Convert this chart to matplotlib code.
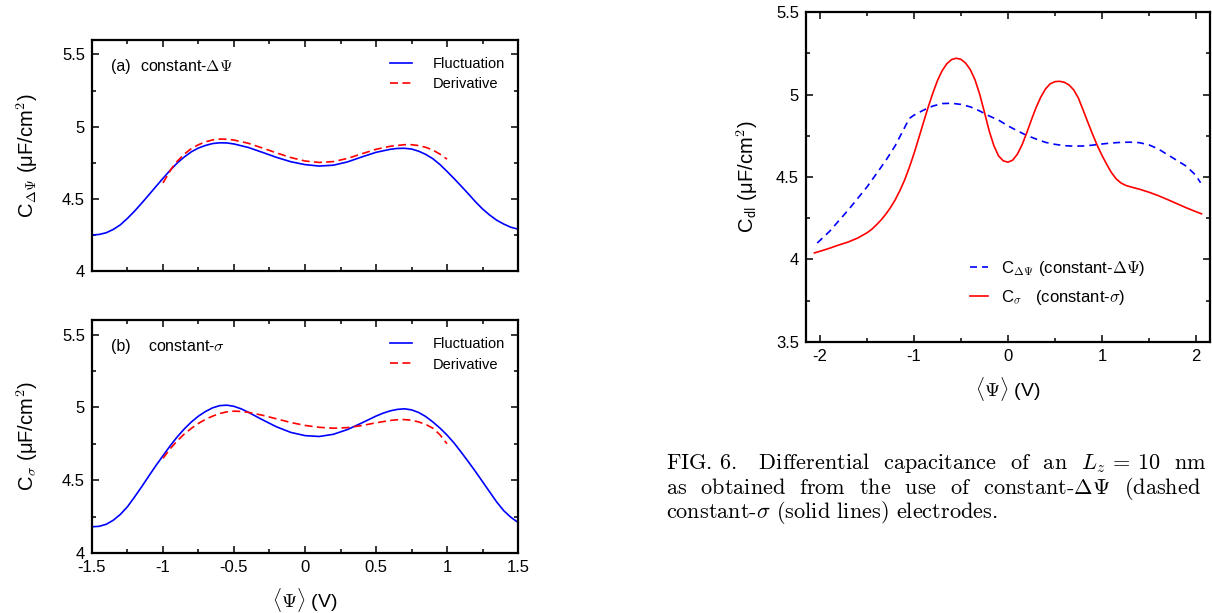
import numpy as np
import matplotlib
matplotlib.use("Agg")
import matplotlib.pyplot as plt
from matplotlib.ticker import MultipleLocator, FuncFormatter

plt.rcParams['font.family'] = ['Liberation Sans', 'DejaVu Sans']
plt.rcParams['mathtext.fontset'] = 'cm'
plt.rcParams['axes.unicode_minus'] = False

# panel (a): constant-dPsi electrodes
psi_a_fluct = [-1.5, -1.45, -1.4, -1.35, -1.3, -1.25, -1.2, -1.15, -1.1, -1.05, -1.0, -0.95, -0.9, -0.85,
               -0.8, -0.75, -0.7, -0.65, -0.6, -0.55, -0.5, -0.4, -0.3, -0.2, -0.1, 0.0, 0.1, 0.2, 0.3,
               0.4, 0.5, 0.6, 0.65, 0.7, 0.75, 0.8, 0.85, 0.9, 0.95, 1.0, 1.05, 1.1, 1.15, 1.2, 1.25,
               1.3, 1.35, 1.4, 1.45, 1.5]
cap_a_fluct = [4.25, 4.253, 4.265, 4.288, 4.32, 4.365, 4.415, 4.47, 4.527, 4.585, 4.642, 4.697, 4.748, 4.79,
               4.826, 4.852, 4.87, 4.883, 4.888, 4.887, 4.88, 4.856, 4.822, 4.787, 4.757, 4.737, 4.727, 4.733, 4.756,
               4.79, 4.822, 4.843, 4.849, 4.85, 4.845, 4.83, 4.808, 4.778, 4.738, 4.69, 4.64, 4.588, 4.535, 4.48, 4.43,
               4.388, 4.352, 4.325, 4.303, 4.29]
psi_a_deriv = [-1.0, -0.97, -0.94, -0.9, -0.85, -0.8, -0.75, -0.7, -0.65, -0.6, -0.55, -0.5, -0.4, -0.3,
               -0.2, -0.1, 0.0, 0.1, 0.2, 0.3, 0.4, 0.5, 0.6, 0.7, 0.75, 0.8, 0.85, 0.9, 0.95, 1.0]
cap_a_deriv = [4.61, 4.66, 4.71, 4.76, 4.81, 4.848, 4.875, 4.895, 4.908, 4.914, 4.913, 4.907, 4.885, 4.852,
               4.818, 4.786, 4.762, 4.752, 4.758, 4.78, 4.812, 4.843, 4.864, 4.875, 4.875, 4.869, 4.857, 4.838, 4.81, 4.775]

# panel (b): constant-sigma electrodes
psi_b_fluct = [-1.5, -1.45, -1.4, -1.35, -1.3, -1.25, -1.2, -1.15, -1.1, -1.05, -1.0, -0.95, -0.9, -0.85,
               -0.8, -0.75, -0.7, -0.65, -0.6, -0.55, -0.5, -0.45, -0.4, -0.3, -0.2, -0.1, 0.0, 0.1, 0.2,
               0.3, 0.4, 0.5, 0.55, 0.6, 0.65, 0.7, 0.75, 0.8, 0.85, 0.9, 0.95, 1.0, 1.05, 1.1, 1.15,
               1.2, 1.25, 1.3, 1.35, 1.4, 1.45, 1.5]
cap_b_fluct = [4.18, 4.183, 4.197, 4.225, 4.265, 4.318, 4.385, 4.455, 4.528, 4.6, 4.668, 4.735, 4.797, 4.852,
               4.9, 4.94, 4.972, 4.997, 5.012, 5.015, 5.007, 4.99, 4.967, 4.915, 4.866, 4.828, 4.806, 4.8, 4.815,
               4.848, 4.893, 4.94, 4.96, 4.976, 4.986, 4.99, 4.983, 4.965, 4.937, 4.9, 4.858, 4.81, 4.755, 4.692, 4.627,
               4.56, 4.49, 4.42, 4.35, 4.29, 4.245, 4.21]
psi_b_deriv = [-1.0, -0.95, -0.9, -0.85, -0.8, -0.75, -0.7, -0.65, -0.6, -0.55, -0.5, -0.45, -0.4, -0.3,
               -0.2, -0.1, 0.0, 0.1, 0.2, 0.3, 0.4, 0.5, 0.6, 0.65, 0.7, 0.75, 0.8, 0.85, 0.9, 0.95, 1.0]
cap_b_deriv = [4.65, 4.715, 4.77, 4.817, 4.856, 4.89, 4.918, 4.94, 4.958, 4.969, 4.974, 4.972, 4.966, 4.946,
               4.921, 4.896, 4.876, 4.863, 4.857, 4.861, 4.875, 4.894, 4.91, 4.915, 4.916, 4.912, 4.9, 4.883, 4.857,
               4.812, 4.75]

# right panel: C_dl for both electrode types
psi_dpsi = [-2.03, -1.9, -1.8, -1.7, -1.6, -1.5, -1.4, -1.3, -1.2, -1.1, -1.05, -1.0, -0.9, -0.8, -0.7,
            -0.6, -0.5, -0.4, -0.3, -0.2, -0.1, 0.0, 0.1, 0.2, 0.3, 0.4, 0.5, 0.6, 0.7, 0.8, 0.9,
            1.0, 1.1, 1.2, 1.3, 1.4, 1.5, 1.6, 1.7, 1.8, 1.9, 2.0, 2.05]
cap_dpsi = [4.10, 4.17, 4.235, 4.30, 4.37, 4.44, 4.52, 4.60, 4.69, 4.80, 4.855, 4.875, 4.905, 4.93, 4.945,
            4.947, 4.94, 4.925, 4.90, 4.87, 4.845, 4.81, 4.78, 4.752, 4.73, 4.71, 4.698, 4.69, 4.687, 4.688, 4.693,
            4.70, 4.706, 4.71, 4.711, 4.708, 4.695, 4.67, 4.635, 4.60, 4.565, 4.51, 4.465]
psi_sigma = [-2.06, -2.0, -1.9, -1.8, -1.7, -1.6, -1.5, -1.45, -1.4, -1.35, -1.3, -1.25, -1.2, -1.15, -1.1,
             -1.05, -1.0, -0.95, -0.9, -0.85, -0.8, -0.75, -0.7, -0.65, -0.6, -0.55, -0.5, -0.45, -0.4, -0.35,
             -0.3, -0.25, -0.2, -0.15, -0.1, -0.05, 0.0, 0.05, 0.1, 0.15, 0.2, 0.25, 0.3, 0.35, 0.4, 0.45,
             0.5, 0.55, 0.6, 0.65, 0.7, 0.75, 0.8, 0.85, 0.9, 0.95, 1.0, 1.05, 1.1, 1.15, 1.2, 1.25, 1.3,
             1.4, 1.5, 1.6, 1.7, 1.8, 1.9, 2.0, 2.06]
cap_sigma = [4.04, 4.05, 4.068, 4.088, 4.106, 4.13, 4.162, 4.183, 4.21, 4.24, 4.275, 4.315, 4.362, 4.418, 4.482,
             4.558, 4.642, 4.735, 4.83, 4.922, 5.008, 5.085, 5.145, 5.187, 5.212, 5.22, 5.213, 5.19, 5.15, 5.088,
             5.0, 4.892, 4.78, 4.69, 4.628, 4.598, 4.59, 4.602, 4.638, 4.695, 4.768, 4.847, 4.922, 4.985, 5.034, 5.065,
             5.078, 5.08, 5.074, 5.058, 5.028, 4.978, 4.906, 4.832, 4.76, 4.692, 4.632, 4.578, 4.528, 4.49, 4.465, 4.45, 4.441,
             4.426, 4.408, 4.387, 4.363, 4.338, 4.313, 4.29, 4.277]

caption = ["FIG. 6.   Differential  capacitance  of  an  $L_z$ = 10  nm",
           r"as  obtained  from  the  use  of  constant-$\Delta\Psi$  (dashed",
           r"constant-$\sigma$ (solid lines) electrodes."]

fig = plt.figure(figsize=(12.12, 6.13), dpi=100)
ax_a = fig.add_axes([0.0759, 0.5579, 0.3515, 0.3768])
ax_b = fig.add_axes([0.0759, 0.0979, 0.3515, 0.3801])
ax_c = fig.add_axes([0.665, 0.4421, 0.3333, 0.5383])

fmt = FuncFormatter(lambda v, p: '%g' % round(v, 2))
blue = '#0000ff'
red = '#ff0000'
dash = (0, (4.8, 2.6))


def style(ax, xmaj, xmin, ymaj, ymin):
    ax.xaxis.set_major_locator(MultipleLocator(xmaj))
    ax.xaxis.set_minor_locator(MultipleLocator(xmin))
    ax.yaxis.set_major_locator(MultipleLocator(ymaj))
    ax.yaxis.set_minor_locator(MultipleLocator(ymin))
    ax.xaxis.set_major_formatter(fmt)
    ax.yaxis.set_major_formatter(fmt)
    ax.tick_params(which='both', direction='in', top=True, right=True, labelsize=12, width=1.1)
    ax.tick_params(which='major', length=5, pad=5)
    ax.tick_params(which='minor', length=3)
    for s in ax.spines.values():
        s.set_linewidth(1.6)


for ax, pf, cf, pd_, cd, lab, ylab in [
        (ax_a, psi_a_fluct, cap_a_fluct, psi_a_deriv, cap_a_deriv,
         ['(a)', r'constant-$\Delta\Psi$', 0.113], r'C$_{\Delta\Psi}$ (μF/cm$^\mathsf{2}$)'),
        (ax_b, psi_b_fluct, cap_b_fluct, psi_b_deriv, cap_b_deriv,
         ['(b)', r'constant-$\sigma$', 0.131], r'C$_{\sigma}$ (μF/cm$^\mathsf{2}$)')]:
    ax.plot(pf, cf, color=blue, lw=1.2, label='Fluctuation')
    ax.plot(pd_, cd, color=red, lw=1.2, ls=dash, label='Derivative')
    ax.set_xlim(-1.5, 1.5)
    ax.set_ylim(4, 5.6)
    style(ax, 0.5, 0.25, 0.5, 0.25)
    ax.text(0.044, 0.885, lab[0], transform=ax.transAxes, fontsize=11.5, va='center')
    ax.text(lab[2], 0.885, lab[1], transform=ax.transAxes, fontsize=11.5, va='center')
    ax.set_ylabel(ylab, fontsize=14.5)
    ax.yaxis.set_label_coords(-0.122, 0.5)
    ax.legend(loc='upper left', bbox_to_anchor=(0.7, 0.925), frameon=False, fontsize=10.5,
              handlelength=1.5, handletextpad=1.4, labelspacing=0.42, borderpad=0, borderaxespad=0)

ax_a.tick_params(labelbottom=False)
ax_b.set_xlabel(r'$\langle\Psi\rangle$ (V)', fontsize=14)
ax_b.xaxis.set_label_coords(0.5, -0.14)

ax_c.plot(psi_dpsi, cap_dpsi, color=blue, lw=1.2, ls=(0, (4.2, 3.0)), label=r'C$_{\Delta\Psi}$ (constant-$\Delta\Psi$)')
ax_c.plot(psi_sigma, cap_sigma, color=red, lw=1.2, label=r'C$_{\sigma}$   (constant-$\sigma$)')
ax_c.set_xlim(-2.15, 2.15)
ax_c.set_ylim(3.5, 5.5)
style(ax_c, 1, 0.5, 0.5, 0.25)
ax_c.set_ylabel(r'C$_\mathsf{dl}$ (μF/cm$^\mathsf{2}$)', fontsize=14.5)
ax_c.yaxis.set_label_coords(-0.114, 0.5)
ax_c.set_xlabel(r'$\langle\Psi\rangle$ (V)', fontsize=14)
ax_c.xaxis.set_label_coords(0.5, -0.1)
ax_c.legend(loc='upper left', bbox_to_anchor=(0.405, 0.252), frameon=False, fontsize=12,
            handlelength=1.1, handletextpad=0.8, labelspacing=0.6, borderpad=0, borderaxespad=0)

for i, line in enumerate(caption):
    fig.text(666 / 1212, 1 - (463 + 25 * i) / 613, line, family='cmr10', fontsize=16, va='center')

fig.savefig('out.png', dpi=100)
